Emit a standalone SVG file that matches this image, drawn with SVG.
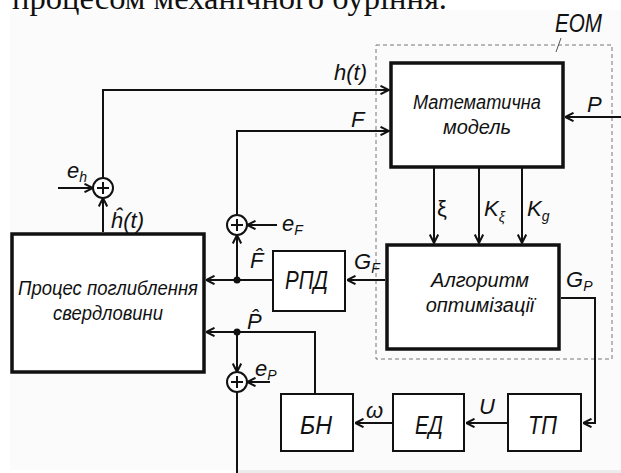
<svg xmlns="http://www.w3.org/2000/svg" width="621" height="473" viewBox="0 0 621 473">
<style>
.thick{fill:#fff;stroke:#111;stroke-width:3.5}
.box{fill:#fff;stroke:#111;stroke-width:2}
.ln{fill:none;stroke:#111;stroke-width:2}
.arr{fill:none;stroke:#111;stroke-width:2;marker-end:url(#ah)}
.sum{fill:#fff;stroke:#111;stroke-width:2}
.t{font-family:"Liberation Sans",Arial,sans-serif;font-style:italic;fill:#111}
.lbl{font-family:"Liberation Sans",Arial,sans-serif;font-style:italic;font-size:22px;fill:#111}
.sub{font-size:14px}
</style>
<defs>
<marker id="ah" viewBox="0 0 10 10" refX="9.5" refY="5" markerWidth="10" markerHeight="10" markerUnits="userSpaceOnUse" orient="auto">
<path d="M1,0.8 L9.5,5 L1,9.2" fill="none" stroke="#111" stroke-width="2"/>
</marker>
</defs>
<rect x="0" y="0" width="621" height="473" fill="#fff"/>
<rect x="10" y="10" width="611" height="460" fill="#fbfbfb"/>
<rect x="238" y="470" width="383" height="3" fill="#ececec"/>
<text x="12" y="9" font-family="'Liberation Serif','Times New Roman',serif" font-size="32" textLength="435" lengthAdjust="spacingAndGlyphs" fill="#111">процесом механічного буріння.</text>

<g id="eom">
<rect x="376" y="45" width="236" height="314" fill="none" stroke="#777" stroke-width="1" stroke-dasharray="4,3"/>
<text class="t" x="555" y="32" font-size="25" textLength="47" lengthAdjust="spacingAndGlyphs">EOM</text>
<line x1="561" y1="38" x2="556" y2="52" stroke="#555" stroke-width="1"/>
</g>

<g id="model">
<rect class="thick" x="391" y="63" width="172" height="104"/>
<text class="t" x="477" y="109" font-size="20" text-anchor="middle" textLength="128" lengthAdjust="spacingAndGlyphs">Математична</text>
<text class="t" x="477" y="134" font-size="20" text-anchor="middle">модель</text>
</g>

<g id="algorithm">
<rect class="thick" x="387" y="245" width="172" height="104"/>
<text class="t" x="480" y="287" font-size="20" text-anchor="middle">Алгоритм</text>
<text class="t" x="480" y="312" font-size="20" text-anchor="middle">оптимізації</text>
</g>

<g id="process">
<rect class="thick" x="12" y="234" width="192" height="138"/>
<text class="t" x="108" y="295" font-size="20" text-anchor="middle" textLength="180" lengthAdjust="spacingAndGlyphs">Процес поглиблення</text>
<text class="t" x="108" y="320" font-size="20" text-anchor="middle" textLength="110" lengthAdjust="spacingAndGlyphs">свердловини</text>
</g>

<g id="rpd">
<rect class="box" x="273" y="251" width="72" height="60"/>
<text class="t" x="285" y="289" font-size="26" textLength="43" lengthAdjust="spacingAndGlyphs">РПД</text>
</g>

<g id="bn">
<rect class="box" x="281" y="394" width="72" height="57"/>
<text class="t" x="300" y="434" font-size="26" textLength="32" lengthAdjust="spacingAndGlyphs">БН</text>
</g>

<g id="ed">
<rect class="box" x="393" y="394" width="71" height="57"/>
<text class="t" x="415" y="434" font-size="26" textLength="28" lengthAdjust="spacingAndGlyphs">ЕД</text>
</g>

<g id="tp">
<rect class="box" x="508" y="394" width="73" height="57"/>
<text class="t" x="528" y="434" font-size="26" textLength="29" lengthAdjust="spacingAndGlyphs">ТП</text>
</g>

<g id="sum-h">
<circle class="sum" cx="103" cy="188" r="10"/>
<path class="ln" d="M97,188 H109 M103,182 V194"/>
</g>
<g id="sum-f">
<circle class="sum" cx="237" cy="225" r="10"/>
<path class="ln" d="M231,225 H243 M237,219 V231"/>
</g>
<g id="sum-p">
<circle class="sum" cx="237" cy="382" r="10"/>
<path class="ln" d="M231,382 H243 M237,376 V388"/>
</g>

<g id="connectors">
<path class="arr" d="M103,178 V90 H389"/>
<path class="arr" d="M237,215 V131 H389"/>
<path class="arr" d="M621,117 H565"/>
<path class="arr" d="M434,167 V243"/>
<path class="arr" d="M479,167 V243"/>
<path class="arr" d="M522,167 V243"/>
<path class="arr" d="M385,280 H347"/>
<path class="arr" d="M273,280 H206"/>
<path class="arr" d="M237,280 V235"/>
<path class="arr" d="M277,225 H247"/>
<path class="arr" d="M58,188 H93"/>
<path class="arr" d="M103,232 V198"/>
<path class="arr" d="M561,298 H595 V423 H583"/>
<path class="arr" d="M508,423 H466"/>
<path class="arr" d="M393,423 H355"/>
<path class="arr" d="M315,394 V332 H206"/>
<path class="arr" d="M237,332 V372"/>
<path class="arr" d="M270,382 H247"/>
<path class="ln" d="M237,392 V473"/>
<circle cx="237" cy="280" r="3.5" fill="#111"/>
<circle cx="237" cy="332" r="3.5" fill="#111"/>
</g>

<g id="labels">
<text class="lbl" x="334" y="80" font-size="23">h(t)</text>
<text class="lbl" x="351" y="127">F</text>
<text class="lbl" x="587" y="112">P</text>
<text class="lbl" x="437" y="216" style="font-style:normal">ξ</text>
<text class="lbl" x="484" y="216" font-size="23">K<tspan class="sub" dy="6">ξ</tspan></text>
<text class="lbl" x="527" y="216" font-size="23">K<tspan class="sub" dy="5">g</tspan></text>
<text class="lbl" x="354" y="269">G<tspan class="sub" dy="4">F</tspan></text>
<text class="lbl" x="566" y="287">G<tspan class="sub" dy="4">P</tspan></text>
<text class="lbl" x="250" y="268">F&#x302;</text>
<text class="lbl" x="247" y="329">P&#x302;</text>
<text class="lbl" x="111" y="228" font-size="23">ĥ(t)</text>
<text class="lbl" x="67" y="178">e<tspan class="sub" dy="4">h</tspan></text>
<text class="lbl" x="282" y="231">e<tspan class="sub" dy="4">F</tspan></text>
<text class="lbl" x="255" y="376">e<tspan class="sub" dy="4">P</tspan></text>
<text class="lbl" x="366" y="418">ω</text>
<text class="lbl" x="479" y="414">U</text>
</g>
</svg>
